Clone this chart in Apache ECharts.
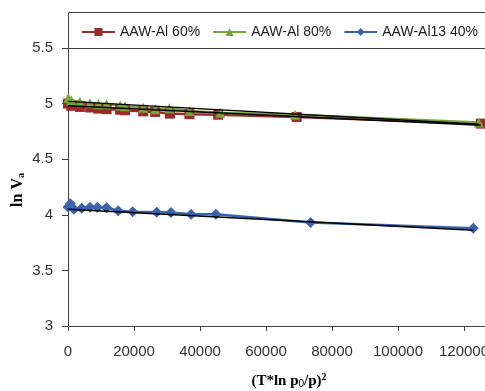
<!DOCTYPE html>
<html><head><meta charset="utf-8">
<script src="https://cdn.jsdelivr.net/npm/echarts@6/dist/echarts.min.js"></script>
<style>html,body{margin:0;padding:0;background:#fff}#c{width:485px;height:391px}</style>
</head><body><div id="c"></div>
<script>
// Series names (legend)
const seriesNames = ['AAW-Al 60%', 'AAW-Al 80%', 'AAW-Al13 40%'];
// Data: [ (T*ln p0/p)^2 , ln Va ]
const al60 = [[0,5.0],[1000,4.98],[3600,4.97],[6700,4.965],[9200,4.955],[11700,4.95],[15800,4.945],[17300,4.94],[22800,4.93],[26400,4.925],[30900,4.91],[36800,4.905],[45500,4.9],[69300,4.88],[125100,4.82]];
const al80 = [[100,5.05],[1000,5.03],[3600,5.017],[6670,5.003],[9200,4.994],[11700,4.994],[15800,4.982],[17300,4.976],[22800,4.963],[26400,4.949],[30700,4.958],[36800,4.933],[46100,4.918],[68800,4.9],[124500,4.83]];
const al13 = [[0,4.07],[700,4.1],[1800,4.05],[4150,4.058],[6670,4.067],[8900,4.067],[11700,4.064],[15200,4.037],[19600,4.028],[26900,4.023],[31200,4.02],[37300,4.005],[44800,4.005],[73500,3.93],[122800,3.88]];
// Linear trend lines (endpoints)
const trend60 = [[0,4.98],[125100,4.805]];
const trend80 = [[100,5.02],[124500,4.815]];
const trend13 = [[0,4.05],[122800,3.86]];
// Axis ticks
const yMin = 3, yMax = 5.5, yStep = 0.5;
const xMin = 0, xMax = 140000, xStep = 20000;

const colors = ['#9c2a2a', '#78a53a', '#3a63ab'];
const axisColor = '#404040';
const chart = echarts.init(document.getElementById('c'));
const mk = (name, data, sym, size, color) => ({
  name, type: 'line', data, symbol: sym, symbolSize: size,
  itemStyle: { color }, lineStyle: { color, width: 2.5 }, animation: false
});
const tr = (data) => ({
  type: 'line', data, symbol: 'none', silent: true, z: 5,
  lineStyle: { color: '#000', width: 1.5 }, animation: false
});
chart.setOption({
  animation: false,
  grid: { left: 68, top: 48, height: 278, width: 462, containLabel: false, outerBoundsMode: 'none' },
  graphic: [
    { type: 'rect', z: 1, shape: { x: 68.5, y: 12.5, width: 440, height: 36 },
      style: { fill: '#fff', stroke: axisColor, lineWidth: 1 } },
    { type: 'text', z: 10, x: 18, y: 190, rotation: Math.PI / 2,
      style: { text: '{b|ln V}{s|a}', align: 'center', verticalAlign: 'middle',
        rich: { b: { fontFamily: 'Liberation Serif', fontWeight: 'bold', fontSize: 16, fill: '#000' },
                s: { fontFamily: 'Liberation Serif', fontWeight: 'bold', fontSize: 10, fill: '#000', padding: [6, 0, 0, 0] } } } },
    { type: 'text', z: 10, x: 289, y: 381,
      style: { text: '{b|(T*ln p}{s|0}{b|/p)}{u|2}', align: 'center', verticalAlign: 'middle',
        rich: { b: { fontFamily: 'Liberation Serif', fontWeight: 'bold', fontSize: 15, fill: '#000' },
                s: { fontFamily: 'Liberation Sans', fontSize: 10, fill: '#000', padding: [6, 0, 0, 0] },
                u: { fontFamily: 'Liberation Serif', fontWeight: 'bold', fontSize: 10, fill: '#000', padding: [0, 0, 7, 0] } } } }
  ],
  legend: {
    data: seriesNames, left: 81, top: 25, z: 10, padding: 0,
    itemWidth: 33, itemHeight: 10, itemGap: 12,
    textStyle: { fontFamily: 'Liberation Sans', fontSize: 14, color: '#222', padding: [0, 0, 0, 0] }
  },
  xAxis: {
    type: 'value', min: xMin, max: xMax, interval: xStep,
    axisLine: { show: true, lineStyle: { color: axisColor, width: 1 } },
    axisTick: { show: true, length: 5, lineStyle: { color: axisColor } },
    splitLine: { show: false },
    axisLabel: { margin: 18, fontFamily: 'Liberation Sans', fontSize: 15, color: '#333', hideOverlap: false, formatter: v => String(v) }
  },
  yAxis: {
    type: 'value', min: yMin, max: yMax, interval: yStep,
    axisLine: { show: true, lineStyle: { color: axisColor, width: 1 } },
    axisTick: { show: true, length: 6, lineStyle: { color: axisColor } },
    splitLine: { show: false },
    axisLabel: { margin: 15, fontFamily: 'Liberation Sans', fontSize: 15, color: '#333', formatter: v => String(v) }
  },
  series: [
    mk(seriesNames[0], al60, 'rect', 10, colors[0]),
    mk(seriesNames[1], al80, 'triangle', 10, colors[1]),
    mk(seriesNames[2], al13, 'diamond', 11, colors[2]),
    tr(trend60), tr(trend80), tr(trend13)
  ]
});
</script></body></html>
